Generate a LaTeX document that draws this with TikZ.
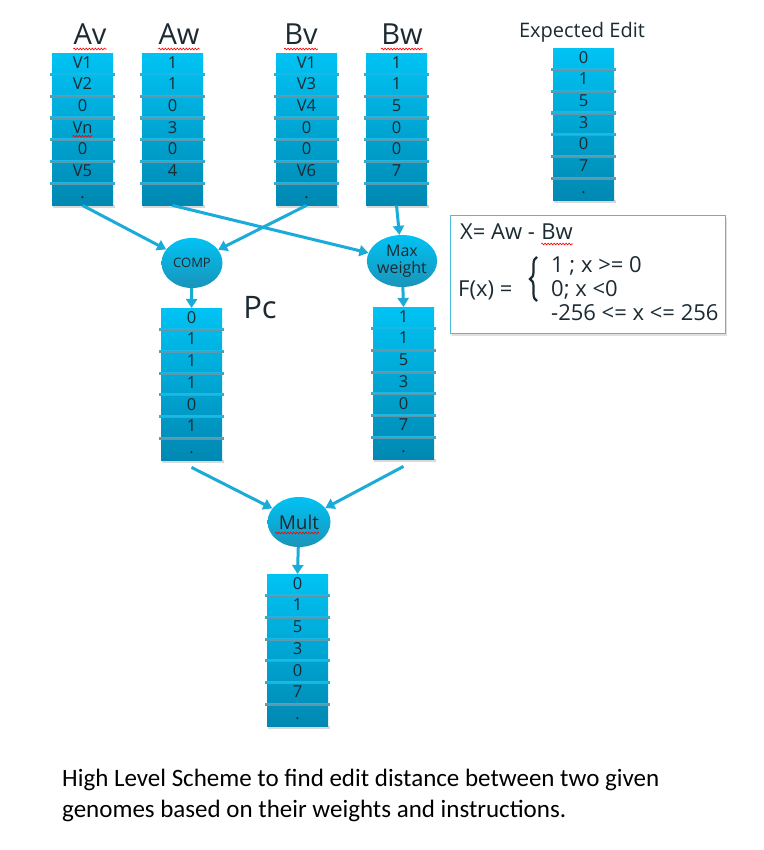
\documentclass[tikz,border=0pt]{standalone}
\usepackage{fontspec}
\setmainfont{Open Sans}
\newfontfamily\captionfont{Carlito}
\usetikzlibrary{shapes.geometric,arrows.meta,decorations.pathmorphing,decorations.pathreplacing}

\definecolor{celltop}{HTML}{00C3F4}
\definecolor{cellbot}{HTML}{0088B2}
\definecolor{sepblue}{HTML}{1CB8E4}
\definecolor{sepgray}{HTML}{5E98AC}
\definecolor{flowblue}{HTML}{1AABD8}
\definecolor{boxline}{HTML}{4CBCDA}
\definecolor{inkdark}{HTML}{1C2A32}

\tikzset{
  stackbox/.style={rectangle, minimum width=61pt, minimum height=152pt, inner sep=0pt,
    top color=celltop, bottom color=cellbot},
  celltext/.style={font=\fontsize{16.5}{16.5}\selectfont, text=inkdark, inner sep=0pt, anchor=base},
  opnode/.style={ellipse, minimum width=61pt, minimum height=50pt, inner sep=0pt,
    top color=celltop, bottom color=cellbot!90, text=inkdark, align=center},
  headlabel/.style={font=\fontsize{29}{29}\selectfont, text=inkdark, inner sep=0pt, anchor=base},
  boxtext/.style={font=\fontsize{22}{22}\selectfont, text=inkdark, inner sep=0pt, anchor=base west},
  flow/.style={draw=flowblue, line width=3pt, -{Triangle[width=11pt,length=9pt]}},
  spellmark/.style={draw=red, line width=0.6pt,
    decorate, decoration={snake, amplitude=0.9pt, segment length=3pt}},
}

% one column of seven cells: name, centre x, top y, values
\newcommand{\cellstack}[4]{%
  \fill[black!15] (#2-30,#3+152) rectangle (#2+32,#3+155);
  \node[stackbox, anchor=north] (#1) at (#2,#3) {};
  \foreach \k in {1,...,6}{
    \fill[sepgray] (#2-32.5,#3+\k*21.7) rectangle (#2+32.5,#3+\k*21.7+1.6);
    \fill[sepblue] (#2-32.5,#3+\k*21.7-1.6) rectangle (#2+32.5,#3+\k*21.7);
  }
  \foreach \val [count=\i] in {#4}{
    \node[celltext] (#1-\i) at (#2,#3+\i*21.7-6.5) {\val};
  }
}

\begin{document}
\begin{tikzpicture}[x=1pt, y=-1pt]

	\useasboundingbox[fill=white] (0,0) rectangle (763,850);

	% Input columns
	\cellstack{av}{82.5}{53}{V1,V2,0,Vn,0,V5,.}
	\cellstack{aw}{172.5}{53}{1,1,0,3,0,4,}
	\cellstack{bv}{306.5}{53}{V1,V3,V4,0,0,V6,.}
	\cellstack{bw}{396.5}{53}{1,1,5,0,0,7,}
	\cellstack{expected}{583.5}{48}{0,1,5,3,0,7,.}

	% Column headings
	\node[headlabel] (avlabel) at (90,45) {Av};
	\node[headlabel] (awlabel) at (179,45) {Aw};
	\node[headlabel] (bvlabel) at (301,45) {Bv};
	\node[headlabel] (bwlabel) at (402,45) {Bw};
	\node[headlabel, font=\fontsize{20}{20}\selectfont] (explabel) at (582,38) {Expected Edit};

	% Operations
	\node[opnode, font=\fontsize{13}{13}\selectfont] (comp) at (192,263) {COMP};
	\node[opnode, minimum width=62pt, minimum height=52pt,
	      font=\fontsize{16}{17}\selectfont] (maxweight) at (402,261) {Max\\weight};
	\node[opnode, minimum width=63pt, font=\fontsize{19}{19}\selectfont] (mult) at (299,522) {Mult};

	% Intermediate and result columns
	\cellstack{pc}{191.5}{308}{0,1,1,1,0,1,.}
	\cellstack{maxcol}{403.5}{307}{1,1,5,3,0,7,.}
	\cellstack{result}{297.5}{574}{0,1,5,3,0,7,.}
	\node[headlabel, font=\fontsize{31}{31}\selectfont] (pclabel) at (260,318) {Pc};

	% Connectors
	\draw[flow] (av.south) -- (comp);
	\draw[flow] (bv.south) -- (comp);
	\draw[flow] (aw.south) -- (maxweight);
	\draw[flow] (bw.south) -- (maxweight);
	\draw[flow] (comp) -- (pc.north);
	\draw[flow] (maxweight) -- (maxcol.north);
	\draw[flow] ([yshift=-7pt]pc.south) -- (mult);
	\draw[flow] ([yshift=-7pt]maxcol.south) -- (mult);
	\draw[flow] (mult) -- (result.north);

	% Formula box
	\fill[black!12] (452,218) rectangle (727,336);
	\node[draw=boxline, line width=0.8pt, fill=white, minimum width=275pt, minimum height=118pt,
	      anchor=north west, inner sep=0pt] (formula) at (450,215) {};
	\node[boxtext] (xdef) at (460,240) {X= Aw -};
	\node[boxtext] (xbw) at ([xshift=6pt]xdef.base east) {Bw};
	\node[boxtext] (fdef) at (458,296) {F(x) =};
	\draw[inkdark, line width=2.2pt, decorate, decoration={brace, amplitude=7pt}]
	      (537,301) -- (537,257);
	\node[boxtext] (caseone) at (551,272) {1 ; x >= 0};
	\node[boxtext] (casetwo) at (551,296) {0; x <0};
	\node[boxtext] (range) at (551,320) {-256 <= x <= 256};

	% Spell-check marks
	\draw[spellmark] ([yshift=-4pt]avlabel.base west) -- ([yshift=-4pt]avlabel.base east);
	\draw[spellmark] ([yshift=-4pt]awlabel.base west) -- ([yshift=-4pt]awlabel.base east);
	\draw[spellmark] ([yshift=-4pt]bvlabel.base west) -- ([yshift=-4pt]bvlabel.base east);
	\draw[spellmark] ([yshift=-4pt]bwlabel.base west) -- ([yshift=-4pt]bwlabel.base east);
	\draw[spellmark] ([yshift=-3pt]av-4.base west) -- ([yshift=-3pt]av-4.base east);
	\draw[spellmark] ([yshift=-4pt]xbw.base west) -- ([yshift=-4pt]xbw.base east);
	\draw[spellmark] ([xshift=-24pt,yshift=-11pt]mult.center) -- ([xshift=20pt,yshift=-11pt]mult.center);

	% Caption
	\node[anchor=base west, inner sep=0pt, align=left, font=\captionfont\fontsize{25}{31}\selectfont]
	      (caption) at (62,817) {High Level Scheme to find edit distance between two given\\
	      genomes based on their weights and instructions.};

\end{tikzpicture}
\end{document}
